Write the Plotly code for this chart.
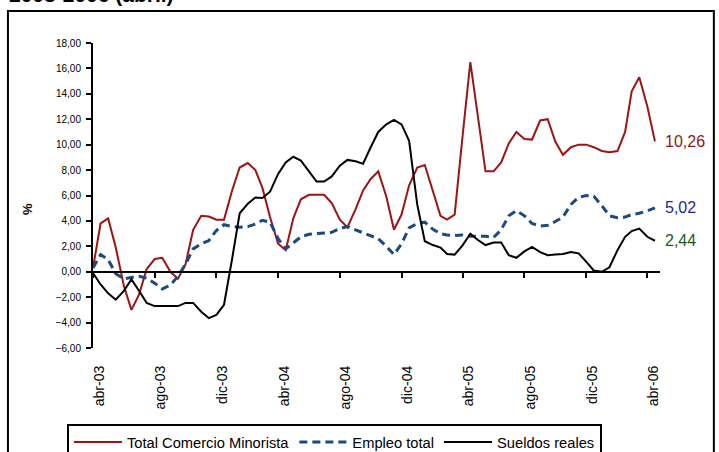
import plotly.graph_objects as go

# half-month sample dates, abr-2003 .. abr-2006
dates = []
for year in (2003, 2004, 2005, 2006):
    for month in range(1, 13):
        if (year == 2003 and month < 4) or (year == 2006 and month > 4):
            continue
        dates.append(f"{year}-{month:02d}-01")
        dates.append(f"{year}-{month:02d}-16")

comercio = [0.3, 3.8, 4.2, 1.9, -1.1, -3.0, -1.8, 0.2, 1.0, 1.1,
            0.0, -0.55, 0.6, 3.3, 4.4, 4.35, 4.1, 4.1, 6.4, 8.2,
            8.55, 8.0, 6.6, 4.3, 2.2, 1.7, 4.2, 5.7, 6.05, 6.05,
            6.05, 5.4, 4.1, 3.5, 4.9, 6.4, 7.3, 7.9, 5.9, 3.3,
            4.5, 6.8, 8.2, 8.4, 6.3, 4.4, 4.1, 4.5, 10.8, 16.5,
            12.2, 7.9, 7.9, 8.6, 10.1, 11.0, 10.45, 10.4, 11.9, 12.0,
            10.25, 9.2, 9.8, 10.0, 10.0, 9.8, 9.5, 9.4, 9.5, 11.0,
            14.2, 15.3, 13.0, 10.26]

empleo = [0.3, 1.35, 0.95, -0.15, -0.55, -0.45, -0.35, -0.5, -0.9, -1.35,
          -1.05, -0.35, 0.6, 1.8, 2.2, 2.45, 3.25, 3.7, 3.55, 3.5,
          3.55, 3.75, 4.05, 3.9, 2.6, 1.8, 2.3, 2.75, 2.95, 3.0,
          3.05, 3.1, 3.4, 3.55, 3.3, 3.05, 2.85, 2.6, 2.0, 1.35,
          2.2, 3.45, 3.8, 3.9, 3.35, 3.0, 2.9, 2.85, 2.9, 2.8,
          2.8, 2.8, 2.7, 3.3, 4.4, 4.8, 4.4, 3.8, 3.6, 3.65,
          3.95, 4.3, 5.3, 5.85, 6.0, 5.95, 5.2, 4.4, 4.25, 4.3,
          4.5, 4.6, 4.8, 5.02]

sueldos = [-0.1, -1.0, -1.7, -2.2, -1.5, -0.6, -1.5, -2.45, -2.7, -2.7,
           -2.7, -2.7, -2.45, -2.45, -3.15, -3.65, -3.4, -2.6, 1.0, 4.6,
           5.35, 5.85, 5.8, 6.3, 7.7, 8.6, 9.05, 8.75, 7.9, 7.1,
           7.1, 7.5, 8.35, 8.8, 8.7, 8.5, 9.8, 11.0, 11.6, 11.95,
           11.6, 10.3, 5.3, 2.4, 2.1, 1.9, 1.4, 1.35, 2.1, 3.0,
           2.5, 2.1, 2.3, 2.3, 1.3, 1.1, 1.6, 1.95, 1.55, 1.3,
           1.35, 1.4, 1.55, 1.45, 0.8, 0.1, 0.0, 0.35, 1.7, 2.75,
           3.2, 3.4, 2.75, 2.44]

tick_dates = ["2003-04-01", "2003-08-01", "2003-12-01", "2004-04-01", "2004-08-01",
              "2004-12-01", "2005-04-01", "2005-08-01", "2005-12-01", "2006-04-01"]
tick_labels = ["abr-03", "ago-03", "dic-03", "abr-04", "ago-04",
               "dic-04", "abr-05", "ago-05", "dic-05", "abr-06"]
# labels sit a little to the right of the tick marks in the original
label_dates = ["2003-04-13", "2003-08-13", "2003-12-13", "2004-04-13", "2004-08-13",
               "2004-12-13", "2005-04-13", "2005-08-13", "2005-12-13", "2006-04-13"]

x_range = ["2003-04-01", "2006-04-26"]
font = "Liberation Sans, Arial, sans-serif"

fig = go.Figure()
fig.add_trace(go.Scatter(x=dates, y=comercio, name="Total Comercio Minorista",
                         mode="lines", line=dict(color="#9c1414", width=2)))
fig.add_trace(go.Scatter(x=dates, y=empleo, name="Empleo total",
                         mode="lines", line=dict(color="#1b4a7e", width=3, dash="8px,5px")))
# black series on the label axis (same range) so that axis gets drawn
fig.add_trace(go.Scatter(x=dates, y=sueldos, name="Sueldos reales", xaxis="x2",
                         mode="lines", line=dict(color="black", width=2)))

end_labels = [(comercio[-1], "#8b1a1a"), (empleo[-1], "#1f1f96"), (sueldos[-1], "#1e5a1e")]
for val, col in end_labels:
    fig.add_annotation(x=dates[-1], y=val, xref="x", yref="y",
                       text=f"{val:.2f}".replace(".", ","), showarrow=False,
                       xanchor="left", xshift=8, font=dict(size=16, color=col, family=font))

fig.add_annotation(x=-0.1146, y=0.456, xref="paper", yref="paper", text="<b>%</b>",
                   xanchor="center", yanchor="middle",
                   textangle=-90, showarrow=False, font=dict(size=13, color="black", family=font))
fig.add_annotation(x=-0.152, y=1.1148, xref="paper", yref="paper", text="<b>2003-2006 (abril)</b>",
                   xanchor="left", yanchor="bottom", showarrow=False,
                   font=dict(size=21, color="black", family=font))

# outer chart frame
fig.add_shape(type="rect", xref="paper", yref="paper", x0=-0.15, x1=1.095, y0=-0.4, y1=1.105,
              line=dict(color="black", width=2))

fig.update_layout(
    width=719, height=452,
    margin=dict(l=93, r=59, t=43, b=104, autoexpand=False),
    paper_bgcolor="white", plot_bgcolor="white",
    separators=",.",
    font=dict(family=font, color="black"),
    showlegend=True,
    legend=dict(orientation="h", x=-0.046, y=-0.249, xanchor="left", yanchor="top",
                bordercolor="black", borderwidth=2, font=dict(size=14.7),
                itemwidth=48, tracegroupgap=0),
    xaxis=dict(type="date", range=x_range, anchor="free", position=0.249,
               showline=True, linecolor="black", linewidth=2,
               tickvals=tick_dates, ticktext=tick_labels, showticklabels=False,
               ticks="outside", ticklen=5, tickwidth=2, tickcolor="black",
               showgrid=False, zeroline=False),
    xaxis2=dict(type="date", range=x_range, overlaying="x", anchor="y", side="bottom",
                tickvals=label_dates, ticktext=tick_labels, tickangle=-90,
                ticks="", ticklabelstandoff=14, showline=False, showgrid=False, zeroline=False,
                tickfont=dict(size=14, color="black")),
    yaxis=dict(range=[-6, 18], tickvals=list(range(-6, 19, 2)), tickformat=".2f",
               showline=True, linecolor="black", linewidth=2,
               ticks="outside", ticklen=5, tickwidth=2, tickcolor="black",
               ticklabelstandoff=3, showgrid=False, zeroline=False,
               tickfont=dict(size=10, color="black")),
)

# drop the browser's default 8px body margin so the chart sits at the page corner
fig.write_html("out.html", config={"displayModeBar": False},
               post_script="document.body.style.margin='0';")
